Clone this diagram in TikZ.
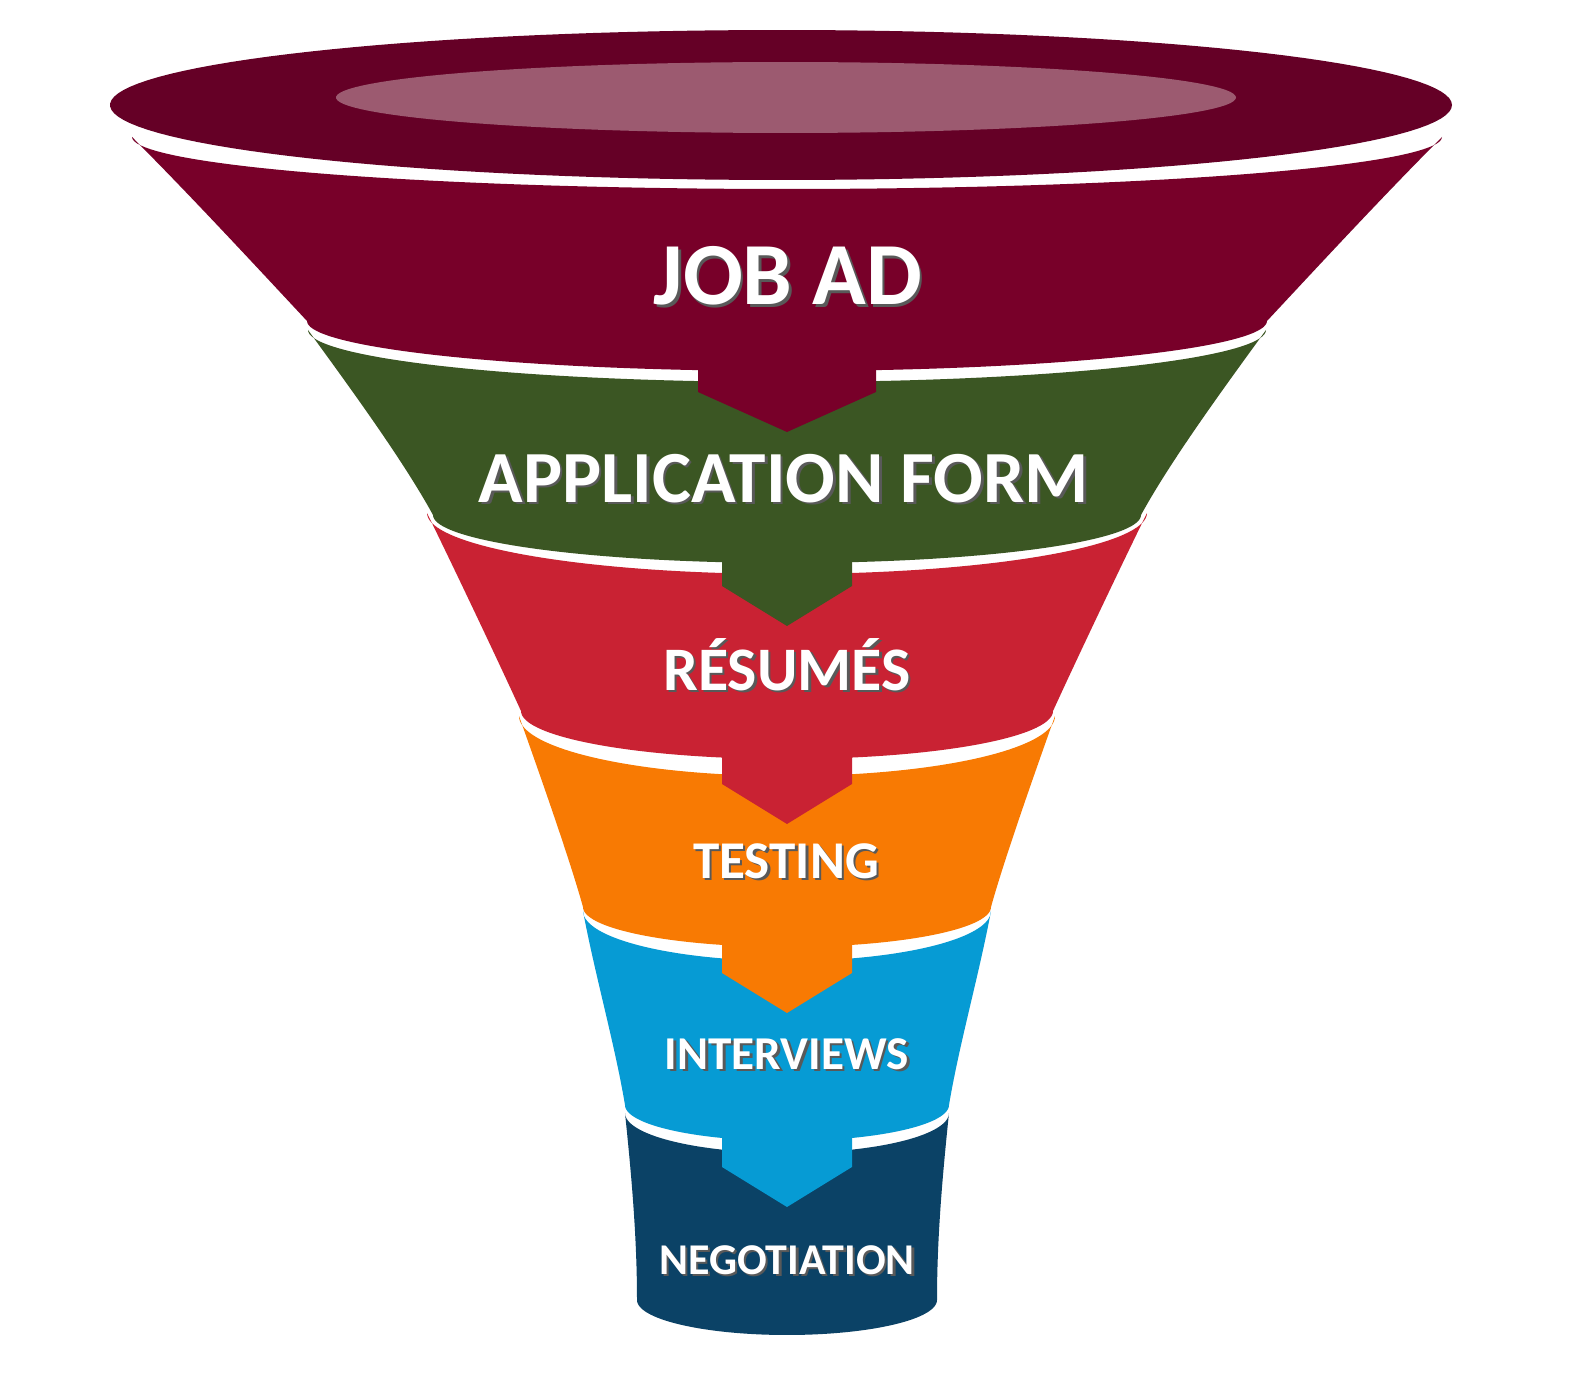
\documentclass[tikz,border=0pt]{standalone}
\usepackage{fontspec}
\setmainfont{Carlito}
\usetikzlibrary{positioning}
\definecolor{rimdark}{HTML}{650026}
\definecolor{rimlight}{HTML}{9C5A70}
\definecolor{jobred}{HTML}{780029}
\definecolor{formgreen}{HTML}{3B5623}
\definecolor{cvred}{HTML}{C92233}
\definecolor{testorange}{HTML}{F87A03}
\definecolor{talkblue}{HTML}{069BD4}
\definecolor{dealnavy}{HTML}{0B4266}
\newcommand{\shadowed}[1]{\rlap{\hspace{0.7pt}\raisebox{-0.7pt}{\textcolor{black!65}{#1}}}#1}

\begin{document}
\begin{tikzpicture}[x=0.01cm,y=0.01cm,yscale=-1,samples=80,
  stage/.style={text=white,anchor=base,inner sep=0pt},
  stagefont/.style={font=\bfseries\fontsize{#1}{#1}\selectfont}
]
\useasboundingbox (0,0) rectangle (1578,1376);
\fill[white] (0,0) rectangle (1578,1376);

% funnel bands, top to bottom
\fill[jobred] (132,137) -- plot[domain=0:180] ({787-655*cos(\x)},{137+52*sin(\x)})
  .. controls (1386,193) and (1322,262) .. (1267,321)
  -- plot[domain=0:180] ({787+480*cos(\x)},{321+50*sin(\x)})
  .. controls (252,262) and (188,193) .. (132,137) -- cycle;
\fill[formgreen] (308,330) -- plot[domain=0:180] ({787-479*cos(\x)},{330+52*sin(\x)})
  .. controls (1226,385) and (1171,460) .. (1141,515)
  -- plot[domain=0:180] ({787+354*cos(\x)},{515+48*sin(\x)})
  .. controls (403,460) and (348,385) .. (308,330) -- cycle;
\fill[cvred] (427,513) -- plot[domain=0:180] ({787-360*cos(\x)},{513+61*sin(\x)})
  .. controls (1119,570) and (1074,665) .. (1053,711)
  -- plot[domain=0:180] ({787+266*cos(\x)},{711+48*sin(\x)})
  .. controls (500,665) and (455,570) .. (427,513) -- cycle;
\fill[testorange] (519,716) -- plot[domain=0:180] ({787-268*cos(\x)},{716+60*sin(\x)})
  .. controls (1034,775) and (1004,860) .. (991,907)
  -- plot[domain=0:180] ({787+204*cos(\x)},{907+40*sin(\x)})
  .. controls (570,860) and (540,775) .. (519,716) -- cycle;
\fill[talkblue] (583,911) -- plot[domain=0:180] ({787-204*cos(\x)},{911+50*sin(\x)})
  .. controls (979,975) and (959,1045) .. (949,1105)
  -- plot[domain=0:180] ({787+162*cos(\x)},{1105+36*sin(\x)})
  .. controls (615,1045) and (595,975) .. (583,911) -- cycle;
\fill[dealnavy] (625,1113) -- plot[domain=0:180] ({787-162*cos(\x)},{1113+40*sin(\x)})
  .. controls (942,1180) and (937,1240) .. (937,1300)
  -- plot[domain=0:180] ({787+150*cos(\x)},{1300+35*sin(\x)})
  .. controls (637,1240) and (632,1180) .. (625,1113) -- cycle;

% arrow tabs
\foreach \tabtop/\tabedge/\tabhalf/\tabcol in
  {340/392/89/jobred,530/586/65/formgreen,720/784/65/cvred,
   910/973/65/testorange,1100/1167/65/talkblue}
  \fill[\tabcol] (787-\tabhalf,\tabtop) -- (787-\tabhalf,\tabedge) -- (787,\tabedge+40)
    -- (787+\tabhalf,\tabedge) -- (787+\tabhalf,\tabtop) -- cycle;

% rim
\fill[rimdark] plot[domain=0:360,samples=140] ({781+671*cos(\x)},{105+75*sin(\x)}) -- cycle;
\fill[rimlight] plot[domain=0:360,samples=120] ({786+450*cos(\x)},{97.5+35.5*sin(\x)}) -- cycle;

\node[stage,stagefont=25.2] (jobad) at (788,305) {\shadowed{JOB AD}};
\node[stage,stagefont=20.9] (appform) at (784,502) {\shadowed{APPLICATION FORM}};
\node[stage,stagefont=17.6] (resumes) at (787,690) {\shadowed{RÉSUMÉS}};
\node[stage,stagefont=15.1] (testing) at (786,878) {\shadowed{TESTING}};
\node[stage,stagefont=13.4] (interviews) at (787,1069) {\shadowed{INTERVIEWS}};
\node[stage,stagefont=12.5] (negotiation) at (787,1274) {\shadowed{NEGOTIATION}};
\end{tikzpicture}
\end{document}
